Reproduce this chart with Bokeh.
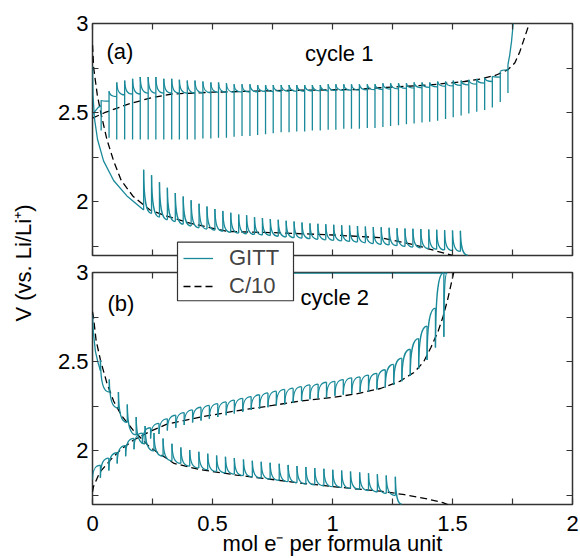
import math
from bokeh.plotting import figure
from bokeh.models import (Range1d, FixedTicker, LinearAxis, Label, Legend, LegendItem,
                          CustomJSTickFormatter, ColumnDataSource, BoxAnnotation)
from bokeh.layouts import column
from bokeh.embed import file_html
from bokeh.resources import INLINE

TEAL = "#1a8a9a"
FRAME = "#333333"
FONT = "Liberation Sans"
FS = "22px"

# ---------------- data ----------------
x_ticks = [0, 0.5, 1, 1.5, 2]
x_minor = [0.25, 0.75, 1.25, 1.75]
y_ticks = [2, 2.5, 3]
y_minor = [1.75, 2.25, 2.75]

# cycle 1, C/10
c1_c10_ch_x = [0, 0.05, 0.1, 0.16, 0.25, 0.33, 0.5, 0.8, 1.1, 1.2, 1.4, 1.55, 1.62, 1.68, 1.73, 1.76, 1.78, 1.795, 1.81, 1.82]
c1_c10_ch_v = [2.47, 2.5, 2.525, 2.553, 2.585, 2.605, 2.615, 2.625, 2.63, 2.64, 2.655, 2.675, 2.69, 2.71, 2.74, 2.78, 2.84, 2.9, 2.96, 3.0]
c1_c10_dis_x = [0, 0.005, 0.02, 0.033, 0.06, 0.088, 0.12, 0.17, 0.24, 0.31, 0.41, 0.56, 0.78, 1.0, 1.2, 1.34, 1.42, 1.5]
c1_c10_dis_v = [2.88, 2.75, 2.6, 2.51, 2.35, 2.23, 2.12, 2.03, 1.955, 1.92, 1.88, 1.835, 1.827, 1.815, 1.80, 1.76, 1.73, 1.70]

# cycle 1, GITT charge (upper branch): pulse positions, peak, relaxed base, bottom of the drop
c1_ch_x = [0.036, 0.069, 0.101, 0.134, 0.167, 0.199, 0.232, 0.264, 0.297, 0.330,
           0.362, 0.395, 0.427, 0.460, 0.493, 0.525, 0.558, 0.590, 0.623, 0.656,
           0.688, 0.721, 0.753, 0.786, 0.819, 0.851, 0.884, 0.916, 0.949, 0.982,
           1.014, 1.047, 1.079, 1.112, 1.145, 1.177, 1.210, 1.242, 1.275, 1.308,
           1.340, 1.373, 1.405, 1.438, 1.471, 1.503, 1.536, 1.568, 1.601, 1.634,
           1.666, 1.699, 1.731]
c1_ch_peak = [2.57, 2.62, 2.67, 2.68, 2.69, 2.70, 2.70, 2.70, 2.69, 2.69,
              2.685, 2.68, 2.68, 2.675, 2.67, 2.67, 2.665, 2.66, 2.66, 2.66,
              2.655, 2.655, 2.655, 2.655, 2.655, 2.655, 2.655, 2.655, 2.655, 2.66,
              2.66, 2.66, 2.66, 2.66, 2.66, 2.66, 2.665, 2.665, 2.665, 2.665,
              2.67, 2.67, 2.67, 2.675, 2.675, 2.68, 2.68, 2.685, 2.69, 2.695,
              2.705, 2.73, 2.77]
c1_ch_base = [2.54, 2.565, 2.59, 2.60, 2.605, 2.605, 2.61, 2.61, 2.61, 2.61,
              2.61, 2.61, 2.61, 2.612, 2.612, 2.614, 2.614, 2.615, 2.615, 2.616,
              2.617, 2.618, 2.618, 2.619, 2.62, 2.62, 2.62, 2.621, 2.622, 2.623,
              2.624, 2.625, 2.626, 2.627, 2.628, 2.629, 2.63, 2.632, 2.634, 2.636,
              2.638, 2.64, 2.642, 2.645, 2.648, 2.65, 2.653, 2.656, 2.66, 2.666,
              2.675, 2.70, 2.74]
c1_ch_low = [2.40, 2.36, 2.35, 2.35, 2.35, 2.35, 2.35, 2.35, 2.35, 2.35,
             2.35, 2.35, 2.35, 2.355, 2.355, 2.36, 2.36, 2.365, 2.37, 2.37,
             2.375, 2.38, 2.385, 2.39, 2.39, 2.395, 2.395, 2.40, 2.40, 2.405,
             2.405, 2.41, 2.41, 2.41, 2.415, 2.415, 2.42, 2.425, 2.43, 2.435,
             2.44, 2.445, 2.45, 2.455, 2.465, 2.475, 2.485, 2.495, 2.505, 2.515,
             2.53, 2.56, 2.61]
c1_ch_head_x = [0.0, 0.012, 0.024, 0.036]
c1_ch_head_v = [2.49, 2.51, 2.53, 2.54]
c1_ch_tail_x = [1.731, 1.738, 1.746, 1.753]
c1_ch_tail_v = [2.77, 2.82, 2.90, 3.0]

# cycle 1, GITT discharge (lower branch)
c1_dis_head_x = [0.0, 0.002, 0.008, 0.021, 0.046, 0.088, 0.146, 0.213]
c1_dis_head_v = [2.76, 2.60, 2.47, 2.35, 2.23, 2.12, 2.03, 1.955]
c1_dis_x = [0.213, 0.246, 0.279, 0.312, 0.345, 0.378, 0.411, 0.444, 0.477, 0.510,
            0.543, 0.576, 0.609, 0.642, 0.675, 0.708, 0.741, 0.774, 0.807, 0.840,
            0.873, 0.906, 0.939, 0.972, 1.005, 1.038, 1.071, 1.104, 1.137, 1.170,
            1.203, 1.236, 1.269, 1.302, 1.335, 1.368, 1.401, 1.434, 1.467, 1.500,
            1.533]
c1_dis_peak = [2.18, 2.15, 2.11, 2.08, 2.05, 2.03, 2.01, 1.99, 1.975, 1.96,
               1.95, 1.94, 1.93, 1.925, 1.915, 1.91, 1.905, 1.90, 1.895, 1.89,
               1.885, 1.88, 1.878, 1.875, 1.872, 1.87, 1.868, 1.865, 1.862, 1.86,
               1.858, 1.855, 1.853, 1.851, 1.85, 1.848, 1.846, 1.844, 1.842, 1.84,
               1.838]
c1_dis_base = [1.955, 1.935, 1.915, 1.90, 1.89, 1.875, 1.865, 1.855, 1.848, 1.842,
               1.836, 1.83, 1.826, 1.822, 1.818, 1.815, 1.812, 1.808, 1.804, 1.80,
               1.797, 1.794, 1.791, 1.788, 1.785, 1.782, 1.779, 1.775, 1.771, 1.767,
               1.763, 1.759, 1.755, 1.751, 1.747, 1.743, 1.739, 1.735, 1.731, 1.727,
               1.723]
c1_dis_end = (1.565, 1.70)

# cycle 2, C/10
c2_c10_dis_x = [0, 0.004, 0.015, 0.033, 0.06, 0.088, 0.12, 0.17, 0.24, 0.34, 0.45, 0.6, 0.75, 0.867, 1.075, 1.2, 1.3, 1.4, 1.46, 1.48]
c2_c10_dis_v = [2.78, 2.75, 2.62, 2.51, 2.38, 2.28, 2.2, 2.115, 2.02, 1.93, 1.895, 1.865, 1.84, 1.82, 1.79, 1.775, 1.755, 1.73, 1.71, 1.70]
c2_c10_ch_x = [0, 0.004, 0.03, 0.075, 0.12, 0.17, 0.24, 0.31, 0.45, 0.6, 0.75, 0.867, 1.0, 1.1, 1.2, 1.28, 1.34, 1.38, 1.41, 1.44, 1.46, 1.48, 1.505]
c2_c10_ch_v = [1.77, 1.80, 1.88, 1.95, 2.01, 2.06, 2.11, 2.15, 2.19, 2.225, 2.255, 2.28, 2.30, 2.32, 2.35, 2.39, 2.44, 2.50, 2.58, 2.67, 2.75, 2.85, 3.0]

# cycle 2, GITT discharge
c2_dis_head_x = [0.0, 0.004, 0.012, 0.022, 0.033]
c2_dis_head_v = [2.76, 2.66, 2.56, 2.50, 2.45]
c2_dis_x = [0.033, 0.070, 0.108, 0.145, 0.182, 0.219, 0.256, 0.294, 0.331, 0.368,
            0.405, 0.443, 0.480, 0.517, 0.554, 0.591, 0.629, 0.666, 0.703, 0.740,
            0.778, 0.815, 0.852, 0.889, 0.926, 0.964, 1.001, 1.038, 1.075, 1.113,
            1.150, 1.187, 1.224, 1.262]
c2_dis_peak = [2.51, 2.40, 2.33, 2.26, 2.19, 2.14, 2.10, 2.07, 2.04, 2.02,
               2.005, 1.995, 1.985, 1.975, 1.967, 1.96, 1.952, 1.945, 1.94, 1.934,
               1.928, 1.922, 1.916, 1.91, 1.905, 1.90, 1.895, 1.89, 1.885, 1.88,
               1.875, 1.87, 1.862, 1.855]
c2_dis_base = [2.45, 2.33, 2.24, 2.16, 2.09, 2.04, 2.0, 1.97, 1.945, 1.93,
               1.915, 1.905, 1.895, 1.885, 1.877, 1.87, 1.862, 1.855, 1.848, 1.842,
               1.835, 1.828, 1.822, 1.815, 1.81, 1.805, 1.80, 1.795, 1.79, 1.785,
               1.778, 1.77, 1.762, 1.75]
c2_dis_end = (1.29, 1.70)

# cycle 2, GITT charge (saw-tooth)
c2_ch_x = [0.033, 0.068, 0.103, 0.138, 0.173, 0.208, 0.242, 0.277, 0.312, 0.347,
           0.382, 0.417, 0.452, 0.487, 0.522, 0.557, 0.591, 0.626, 0.661, 0.696,
           0.731, 0.766, 0.801, 0.836, 0.871, 0.906, 0.940, 0.975, 1.010, 1.045,
           1.080, 1.115, 1.150, 1.185, 1.220, 1.255, 1.289, 1.324, 1.359, 1.394,
           1.429, 1.464]
c2_ch_peak = [1.92, 1.96, 1.99, 2.03, 2.07, 2.10, 2.13, 2.155, 2.18, 2.20,
              2.215, 2.23, 2.245, 2.255, 2.265, 2.275, 2.285, 2.295, 2.305, 2.315,
              2.325, 2.335, 2.345, 2.352, 2.36, 2.37, 2.375, 2.385, 2.39, 2.40,
              2.41, 2.415, 2.425, 2.435, 2.455, 2.485, 2.52, 2.57, 2.63, 2.70,
              2.80, 3.0]
c2_ch_base = [1.85, 1.89, 1.93, 1.97, 2.01, 2.04, 2.07, 2.095, 2.115, 2.13,
              2.145, 2.16, 2.17, 2.18, 2.19, 2.20, 2.21, 2.22, 2.23, 2.235,
              2.245, 2.255, 2.26, 2.27, 2.28, 2.29, 2.295, 2.30, 2.31, 2.315,
              2.32, 2.33, 2.335, 2.345, 2.355, 2.37, 2.39, 2.42, 2.46, 2.51,
              2.58, 2.64]
c2_ch_start = (0.0, 1.84)
c2_ch_end = (1.478, 3.0)
c2_top_x = [0.45, 1.478]
c2_top_v = [2.996, 2.996]

legend_labels = ["GITT", "C/10"]


# ---------------- helpers ----------------
def decay_source(xs, peaks, bases, end=None):
    d = dict(x0=[], y0=[], x1=[], y1=[], cx0=[], cy0=[], cx1=[], cy1=[])
    n = len(xs)
    for i in range(n):
        if i + 1 < n:
            nx, nv = xs[i + 1], bases[i + 1]
        elif end is not None:
            nx, nv = end
        else:
            break
        dx = nx - xs[i]
        pv = peaks[i]
        d["x0"].append(xs[i]); d["y0"].append(pv)
        d["x1"].append(nx); d["y1"].append(nv)
        d["cx0"].append(xs[i] + 0.04 * dx); d["cy0"].append(nv + 0.3 * (pv - nv))
        d["cx1"].append(xs[i] + 0.3 * dx); d["cy1"].append(nv)
    return ColumnDataSource(d)


def rise_source(xs, peaks, bases, start, end):
    d = dict(x0=[], y0=[], x1=[], y1=[], cx0=[], cy0=[], cx1=[], cy1=[])
    pts = [start] + [(xs[i], bases[i]) for i in range(len(xs))]
    tgt = [(xs[i], peaks[i]) for i in range(len(xs))] + [end]
    for (ax, av), (bx, bv) in zip(pts, tgt):
        dx = bx - ax
        d["x0"].append(ax); d["y0"].append(av)
        d["x1"].append(bx); d["y1"].append(bv)
        d["cx0"].append(ax + 0.02 * dx); d["cy0"].append(av + 0.75 * (bv - av))
        d["cx1"].append(ax + 0.35 * dx); d["cy1"].append(bv)
    return ColumnDataSource(d)


def blank_axis(ticker):
    ax = LinearAxis(ticker=ticker, formatter=CustomJSTickFormatter(code="return ''"))
    ax.major_label_text_font_size = "0px"
    ax.major_label_standoff = 0
    return ax


def style_axis(ax):
    ax.axis_line_color = None
    ax.major_tick_line_color = FRAME
    ax.minor_tick_line_color = FRAME
    ax.major_tick_line_width = 1.2
    ax.minor_tick_line_width = 1.2
    ax.major_tick_in = 6
    ax.major_tick_out = 0
    ax.minor_tick_in = 6
    ax.minor_tick_out = 0
    ax.major_label_text_font = FONT
    ax.major_label_text_color = "black"


def make_fig(height, top, bottom, with_xlabels):
    p = figure(width=580, height=height, x_range=Range1d(0, 2), y_range=Range1d(1.7, 3.0),
               output_backend="svg", toolbar_location=None,
               x_axis_type=None, y_axis_type=None,
               min_border_left=92, min_border_right=8,
               min_border_top=top, min_border_bottom=bottom)
    p.outline_line_color = FRAME
    p.outline_line_width = 1.5
    p.background_fill_color = "white"
    p.border_fill_color = "white"
    xt = FixedTicker(ticks=x_ticks, minor_ticks=x_minor)
    yt = FixedTicker(ticks=y_ticks, minor_ticks=y_minor)
    left = LinearAxis(ticker=yt, formatter=CustomJSTickFormatter(code="return tick.toString()"))
    left.major_label_text_font_size = FS
    left.major_label_standoff = 4
    style_axis(left)
    p.add_layout(left, "left")
    right = blank_axis(yt)
    style_axis(right)
    p.add_layout(right, "right")
    above = blank_axis(xt)
    style_axis(above)
    p.add_layout(above, "above")
    if with_xlabels:
        below = LinearAxis(ticker=xt, formatter=CustomJSTickFormatter(code="return tick.toString()"))
        below.major_label_text_font_size = FS
        below.major_label_standoff = 11
    else:
        below = blank_axis(xt)
    style_axis(below)
    p.add_layout(below, "below")
    return p


def txt(p, x, y, s, **kw):
    lab = Label(x=x, y=y, text=s, text_font=FONT, text_font_size=FS,
                text_color="black", text_baseline="middle", **kw)
    p.add_layout(lab)


DASH = "7 4"
LW = 1.3

# ---------------- panel (a) ----------------
pa = make_fig(258, 23, 3, False)
pa.line(c1_c10_ch_x, c1_c10_ch_v, line_color="black", line_dash=DASH, line_width=1.3)
pa.line(c1_c10_dis_x, c1_c10_dis_v, line_color="black", line_dash=DASH, line_width=1.3)
pa.line(c1_ch_head_x, c1_ch_head_v, line_color=TEAL, line_width=LW)
pa.segment(x0=c1_ch_x, y0=c1_ch_low, x1=c1_ch_x, y1=c1_ch_peak, line_color=TEAL, line_width=LW)
pa.bezier(x0="x0", y0="y0", x1="x1", y1="y1", cx0="cx0", cy0="cy0", cx1="cx1", cy1="cy1",
          source=decay_source(c1_ch_x, c1_ch_peak, c1_ch_base), line_color=TEAL, line_width=LW)
pa.line(c1_ch_tail_x, c1_ch_tail_v, line_color=TEAL, line_width=LW)
pa.line(c1_dis_head_x, c1_dis_head_v, line_color=TEAL, line_width=LW)
pa.segment(x0=c1_dis_x, y0=c1_dis_base, x1=c1_dis_x, y1=c1_dis_peak, line_color=TEAL, line_width=LW)
pa.bezier(x0="x0", y0="y0", x1="x1", y1="y1", cx0="cx0", cy0="cy0", cx1="cx1", cy1="cy1",
          source=decay_source(c1_dis_x, c1_dis_peak, c1_dis_base, c1_dis_end), line_color=TEAL, line_width=LW)
txt(pa, 0.058, 2.845, "(a)")
txt(pa, 0.885, 2.83, "cycle 1")

# ---------------- panel (b) ----------------
pb = make_fig(300, 14, 54, True)
pb.line(c2_c10_dis_x, c2_c10_dis_v, line_color="black", line_dash=DASH, line_width=1.3)
pb.line(c2_c10_ch_x, c2_c10_ch_v, line_color="black", line_dash=DASH, line_width=1.3)
pb.line(c2_dis_head_x, c2_dis_head_v, line_color=TEAL, line_width=LW)
pb.segment(x0=c2_dis_x, y0=c2_dis_base, x1=c2_dis_x, y1=c2_dis_peak, line_color=TEAL, line_width=LW)
pb.bezier(x0="x0", y0="y0", x1="x1", y1="y1", cx0="cx0", cy0="cy0", cx1="cx1", cy1="cy1",
          source=decay_source(c2_dis_x, c2_dis_peak, c2_dis_base, c2_dis_end), line_color=TEAL, line_width=LW)
pb.segment(x0=c2_ch_x, y0=c2_ch_base, x1=c2_ch_x, y1=c2_ch_peak, line_color=TEAL, line_width=LW)
pb.bezier(x0="x0", y0="y0", x1="x1", y1="y1", cx0="cx0", cy0="cy0", cx1="cx1", cy1="cy1",
          source=rise_source(c2_ch_x, c2_ch_peak, c2_ch_base, c2_ch_start, c2_ch_end), line_color=TEAL, line_width=LW)
pb.line(c2_top_x, c2_top_v, line_color=TEAL, line_width=LW)
txt(pb, 0.0625, 2.826, "(b)")
txt(pb, 0.867, 2.862, "cycle 2")

# ---------------- transparent overlay: shared axis titles and legend ----------------
# its frame spans page px 92..572 x 32..496; data units = page pixels
ov = figure(width=580, height=558, x_range=Range1d(92, 572), y_range=Range1d(496, 32),
            output_backend="svg", toolbar_location=None, x_axis_type=None, y_axis_type=None,
            min_border_left=92, min_border_right=8, min_border_top=32, min_border_bottom=62,
            margin=(-558, 0, 0, 0))
ov.outline_line_color = None
ov.background_fill_color = None
ov.border_fill_color = None
g_gitt = ov.line([100, 110], [-100, -100], line_color=TEAL, line_width=LW)
g_c10 = ov.line([100, 110], [-100, -100], line_color="black", line_dash=DASH, line_width=1.3)


def title_axis(label, standoff):
    ax = LinearAxis(ticker=FixedTicker(ticks=[]), axis_label=label)
    ax.axis_line_color = None
    ax.major_tick_line_color = None
    ax.minor_tick_line_color = None
    ax.major_label_text_font_size = "0px"
    ax.major_label_standoff = 0
    ax.axis_label_text_font = FONT
    ax.axis_label_text_font_size = FS
    ax.axis_label_text_font_style = "normal"
    ax.axis_label_text_color = "black"
    ax.axis_label_standoff = standoff
    return ax


ov.add_layout(title_axis("V (vs. Li/Li\u207a)", 57), "left")
ov.add_layout(title_axis("mol e\u207b per formula unit", 37), "below")

box = BoxAnnotation(left=177, right=293, top=243, bottom=302, fill_color="white", fill_alpha=1.0,
                    line_color=FRAME, line_width=1.2, line_alpha=1.0)
ov.add_layout(box)

legend = Legend(items=[LegendItem(label=legend_labels[0], renderers=[g_gitt]),
                       LegendItem(label=legend_labels[1], renderers=[g_c10])],
                location=(91, 194))
legend.label_text_font = FONT
legend.label_text_font_size = FS
legend.border_line_color = None
legend.background_fill_alpha = 0.0
legend.padding = 4
legend.spacing = 2
legend.margin = 0
legend.glyph_width = 30
legend.label_standoff = 16
ov.add_layout(legend)

layout = column(pa, pb, ov)
open("out.html", "w").write(file_html(layout, INLINE))
